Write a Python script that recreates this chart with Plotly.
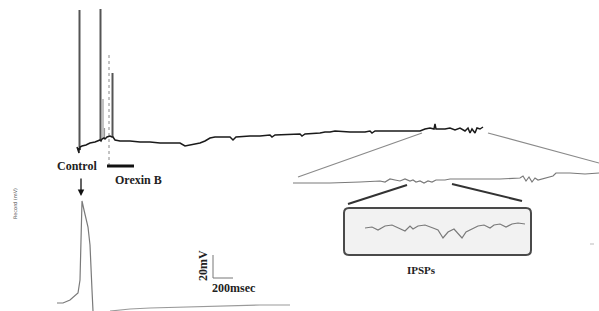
import plotly.graph_objects as go

# ---------------- data (figure units: x px, y px from top) -------------
# Main recording (top trace): baseline with action potentials during Orexin B application
top_x = [77, 79, 79, 80, 80, 82, 86, 90, 95, 99, 100, 101, 102, 104, 105, 107, 110, 112, 113, 115,
         120, 130, 140, 150, 160, 170, 180, 185, 190, 195, 200, 205, 210, 215, 220, 230, 233, 236,
         250, 260, 270, 272, 275, 290, 300, 302, 305, 320, 325, 330, 335, 350, 365, 370, 372, 375,
         400, 420, 425, 430, 434, 435, 436, 440, 445, 450, 455, 460, 465, 468, 470, 472, 475, 477,
         480, 483]
top_y = [147, 153, 148, 150, 147, 146, 145, 143, 142, 141, 140, 141, 139, 138, 139, 137, 136, 137,
         137, 140, 141, 141, 142, 142, 143, 143, 143, 146, 145, 144, 143, 141, 138, 137, 137, 137,
         140, 137, 136, 136, 135, 137, 135, 134, 134, 136, 134, 133, 132, 132, 131, 132, 132, 131,
         133, 131, 131, 131, 129, 128, 129, 124, 129, 129, 129, 128, 130, 128, 131, 128, 133, 129,
         133, 128, 129, 127]

# Action potential spikes on top trace: x position, peak, foot
spike_x = [79.5, 100.5, 112.5]
spike_top = [10, 9, 73]
spike_foot = [148, 140, 137]
small_spike_x = [103, 104.5]
small_spike_top = [99, 128]
small_spike_foot = [139, 138]

# Orexin B application marker (dotted onset line and bar)
orexin_line_x = [109, 109]
orexin_line_y = [55, 165]
orexin_bar_x = [107, 134]
orexin_bar_y = [166, 166]

# Control action potential (bottom left)
ap_x = [57, 63, 70, 75, 78, 80, 81, 82, 84, 86, 88, 90, 91, 92, 93]
ap_y = [303, 303, 300, 296, 293, 280, 240, 201, 210, 218, 227, 245, 262, 290, 311]
ap_tail_x = [110, 130, 150, 180, 220, 260, 290]
ap_tail_y = [311, 309, 308, 307, 306, 305, 305]

# Expanded segment (middle right)
mid_x = [293, 330, 360, 380, 385, 390, 395, 400, 405, 410, 413, 416, 420, 424, 428, 432, 436,
         440, 445, 450, 470, 500, 520, 523, 526, 529, 532, 535, 538, 542, 546, 550, 553, 556,
         570, 585, 599]
mid_y = [183, 183, 182, 181, 182, 179, 180, 181, 179, 181, 180, 182, 181, 183, 181, 182, 180,
         180, 180, 179, 179, 179, 178, 176, 181, 177, 182, 178, 180, 179, 178, 177, 176, 173,
         173, 174, 173]

# IPSPs inset trace
ipsp_x = [365, 372, 378, 385, 392, 398, 405, 410, 413, 418, 425, 433, 438, 443, 448, 454, 458,
          462, 466, 472, 478, 484, 490, 494, 500, 506, 512, 518, 525]
ipsp_y = [228, 227, 230, 226, 225, 228, 231, 226, 229, 226, 225, 228, 230, 238, 232, 229, 233,
          238, 232, 229, 226, 225, 228, 225, 224, 227, 224, 223, 224]

# Zoom guide lines
guide_top_x = [[298, 422], [488, 599]]
guide_top_y = [[177, 133], [133, 163]]
guide_low_x = [[348, 407], [452, 522]]
guide_low_y = [[204, 185], [184, 201]]

# Scale bar (20 mV / 200 msec)
scale_x = [213, 213, 233]
scale_y = [255, 278, 278]

# Inset box
box_x0, box_x1, box_y0, box_y1 = 344, 531, 208, 255

SERIF = "Liberation Serif, Times New Roman, serif"

fig = go.Figure()

def line(x, y, color, width, dash="solid"):
    fig.add_trace(go.Scatter(x=x, y=y, mode="lines", hoverinfo="skip", showlegend=False,
                             line=dict(color=color, width=width, dash=dash)))

# inset box (drawn first, as a shape below traces)
r = 5
path = (f"M {box_x0+r},{box_y0} L {box_x1-r},{box_y0} Q {box_x1},{box_y0} {box_x1},{box_y0+r} "
        f"L {box_x1},{box_y1-r} Q {box_x1},{box_y1} {box_x1-r},{box_y1} "
        f"L {box_x0+r},{box_y1} Q {box_x0},{box_y1} {box_x0},{box_y1-r} "
        f"L {box_x0},{box_y0+r} Q {box_x0},{box_y0} {box_x0+r},{box_y0} Z")
fig.add_shape(type="path", path=path, xref="x", yref="y", layer="below",
              line=dict(color="#4a4a4a", width=2), fillcolor="#f2f2f2")

# spikes
for sx, st, sf in zip(spike_x, spike_top, spike_foot):
    line([sx, sx], [sf, st], "#555555", 2)
for sx, st, sf in zip(small_spike_x, small_spike_top, small_spike_foot):
    line([sx, sx], [sf, st], "#9a9a9a", 1.2)

line(orexin_line_x, orexin_line_y, "#888888", 1, "dot")
line(top_x, top_y, "#1a1a1a", 1.5)
line(orexin_bar_x, orexin_bar_y, "#111111", 3)

line(ap_x, ap_y, "#7a7a7a", 1.2)
line(ap_tail_x, ap_tail_y, "#9a9a9a", 1.2)

for gx, gy in zip(guide_top_x, guide_top_y):
    line(gx, gy, "#8a8a8a", 1.2)
for gx, gy in zip(guide_low_x, guide_low_y):
    line(gx, gy, "#333333", 2)

line(mid_x, mid_y, "#7a7a7a", 1.2)
line(ipsp_x, ipsp_y, "#7a7a7a", 1.2)
line(scale_x, scale_y, "#777777", 1)
line([590, 594], [244, 244], "#bbbbbb", 1)

# texts
def txt(x, y, s, size=11, angle=0, color="#222222", weight="bold"):
    fig.add_annotation(x=x, y=y, text=f"<b>{s}</b>" if weight == "bold" else s, showarrow=False,
                       xref="x", yref="y", textangle=angle,
                       font=dict(family=SERIF, size=size, color=color))

txt(77, 166, "Control", size=12)
txt(138, 180, "Orexin B", size=12)
txt(234, 288, "200msec", size=12)
txt(203, 266, "20mV", size=12, angle=-90)
txt(421, 270, "IPSPs", size=11)
fig.add_annotation(x=15, y=204, text="Record (mV)", showarrow=False, textangle=-90,
                   font=dict(family="DejaVu Sans, sans-serif", size=5, color="#555555"))

# arrow under Control
fig.add_annotation(x=81, y=196, ax=81, ay=177, xref="x", yref="y", axref="x", ayref="y",
                   showarrow=True, arrowhead=2, arrowsize=1, arrowwidth=1.3,
                   arrowcolor="#111111", text="")

fig.update_layout(
    width=599, height=311, margin=dict(l=0, r=0, t=0, b=0),
    paper_bgcolor="white", plot_bgcolor="white",
    xaxis=dict(range=[0, 599], visible=False, fixedrange=True),
    yaxis=dict(range=[311, 0], visible=False, fixedrange=True),
)

fig.write_html("out.html", config=dict(displayModeBar=False),
               post_script="document.body.style.margin='0';document.body.style.overflow='hidden';")
